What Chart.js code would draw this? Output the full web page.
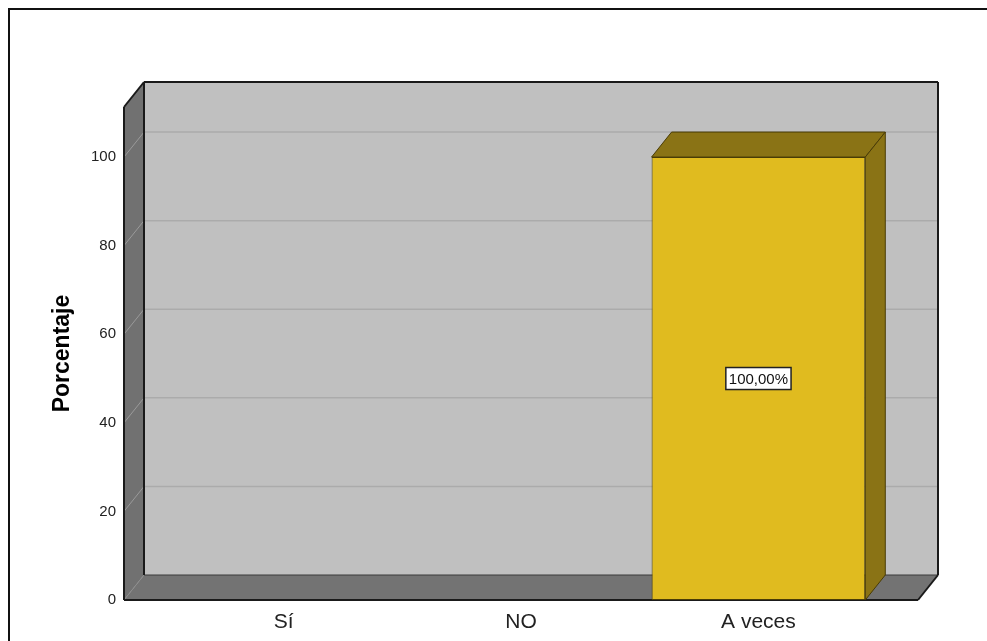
<!DOCTYPE html>
<html>
<head>
<meta charset="utf-8">
<script src="https://cdn.jsdelivr.net/npm/chart.js@4.4.1/dist/chart.umd.min.js"></script>
<style>
	html, body { margin: 0; padding: 0; background: #fff; overflow: hidden; }
	#frame { position: absolute; left: 8px; top: 8px; width: 1200px; height: 1200px; border: 2px solid #111; }
	#wrap { position: absolute; left: 0; top: 0; width: 987px; height: 641px; }
</style>
</head>
<body>
<div id="frame"></div>
<div id="wrap"><canvas id="chart"></canvas></div>
<script>
const categories = ['Sí', 'NO', 'A veces'];
const porcentajes = [0, 0, 100];
const yTicks = [0, 20, 40, 60, 80, 100];

const sans = "'Liberation Sans', Arial, sans-serif";
const depth = { dx: 20, dy: 25 }; // desplazamiento de la perspectiva 3D

function poly(ctx, pts, fill, stroke, lw) {
	ctx.beginPath();
	ctx.moveTo(pts[0][0], pts[0][1]);
	pts.slice(1).forEach((p) => ctx.lineTo(p[0], p[1]));
	ctx.closePath();
	if (fill) {
		ctx.fillStyle = fill;
		ctx.fill();
	}
	if (stroke) {
		ctx.strokeStyle = stroke;
		ctx.lineWidth = lw || 1;
		ctx.stroke();
	}
}

function line(ctx, x1, y1, x2, y2, color, lw) {
	ctx.beginPath();
	ctx.moveTo(x1, y1);
	ctx.lineTo(x2, y2);
	ctx.strokeStyle = color;
	ctx.lineWidth = lw;
	ctx.stroke();
}

// paredes, suelo y rejilla de la caja 3D
const box3d = {
	id: 'box3d',
	beforeDatasetsDraw(chart) {
		const { ctx, chartArea, scales } = chart;
		const { left: L, right: R, top: T, bottom: B } = chartArea;
		const { dx, dy } = depth;
		ctx.save();
		ctx.fillStyle = '#c0c0c0';
		ctx.fillRect(L + dx, T - dy, R - L, B - T);
		poly(ctx, [[L, B], [L, T], [L + dx, T - dy], [L + dx, B - dy]], '#717171');
		poly(ctx, [[L, B], [R, B], [R + dx, B - dy], [L + dx, B - dy]], '#737373');

		yTicks.forEach((v) => {
			if (v === 0) return;
			const py = scales.y.getPixelForValue(v);
			line(ctx, L + dx, py - dy, R + dx, py - dy, '#ababab', 1.5);
			line(ctx, L, py, L + dx, py - dy, '#9a9a9a', 1);
		});

		line(ctx, L, B, L + dx, B - dy, '#8c8c8c', 1);
		line(ctx, L + dx, B - dy, R + dx, B - dy, '#3a3a3a', 1);
		line(ctx, L + dx, T - dy, L + dx, B - dy, '#1a1a1a', 2);
		line(ctx, L, T, L, B, '#1a1a1a', 2);
		line(ctx, L, T, L + dx, T - dy, '#1a1a1a', 2);
		line(ctx, L + dx, T - dy, R + dx, T - dy, '#1a1a1a', 2);
		line(ctx, R + dx, T - dy, R + dx, B - dy, '#1a1a1a', 2);
		line(ctx, R + dx, B - dy, R, B, '#1a1a1a', 2);
		line(ctx, L, B, R, B, '#1a1a1a', 2);
		ctx.restore();
	},
	afterDatasetsDraw(chart) {
		const { ctx } = chart;
		const { dx, dy } = depth;
		ctx.save();
		chart.getDatasetMeta(0).data.forEach((bar, i) => {
			const v = porcentajes[i];
			if (!v) return;
			const l = bar.x - bar.width / 2;
			const r = bar.x + bar.width / 2;
			// cara superior y lateral
			poly(ctx, [[l, bar.y], [l + dx, bar.y - dy], [r + dx, bar.y - dy], [r, bar.y]], '#8a7315', '#4a3c06', 1);
			poly(ctx, [[r, bar.y], [r + dx, bar.y - dy], [r + dx, bar.base - dy], [r, bar.base]], '#8a7315', '#4a3c06', 1);

			// etiqueta de valor
			const txt = v.toFixed(2).replace('.', ',') + '%';
			ctx.font = `15px ${sans}`;
			const w = ctx.measureText(txt).width + 6;
			const h = 22;
			const cx = bar.x;
			const cy = (bar.y + bar.base) / 2;
			ctx.fillStyle = '#fff';
			ctx.fillRect(cx - w / 2, cy - h / 2, w, h);
			ctx.strokeStyle = '#222';
			ctx.lineWidth = 1.5;
			ctx.strokeRect(cx - w / 2, cy - h / 2, w, h);
			ctx.fillStyle = '#111';
			ctx.textAlign = 'center';
			ctx.textBaseline = 'middle';
			ctx.fillText(txt, cx, cy + 1);
		});
		ctx.restore();
	},
};

const ctx = document.getElementById('chart');
new Chart(ctx, {
	type: 'bar',
	data: {
		datasets: [
			{
				data: categories.map((c, i) => ({ x: i, y: porcentajes[i] })),
				backgroundColor: '#e0bb1f',
				borderColor: '#4a3c06',
				borderWidth: (c) => (c.raw && c.raw.y > 0 ? 1 : 0),
				borderSkipped: false,
				categoryPercentage: 1,
				barPercentage: 0.9,
			},
		],
	},
	plugins: [box3d],
	options: {
		responsive: true,
		maintainAspectRatio: false,
		animation: false,
		layout: { padding: { top: 107, right: 69, left: 45, bottom: 0 } },
		plugins: {
			legend: { display: false },
			tooltip: { enabled: false },
		},
		scales: {
			x: {
				type: 'linear',
				offset: false,
				min: -0.672,
				max: 2.672,
				grid: { display: false, drawTicks: false },
				border: { display: false },
				afterBuildTicks: (scale) => {
					scale.ticks = categories.map((c, i) => ({ value: i }));
				},
				afterFit: (scale) => {
					scale.height = 41;
				},
				ticks: {
					padding: 10,
					color: '#222',
					font: { family: sans, size: 21 },
					callback: (value) => categories[value],
				},
			},
			y: {
				min: 0,
				max: 111.3,
				grid: { display: false, drawTicks: false },
				border: { display: false },
				afterBuildTicks: (scale) => {
					scale.ticks = yTicks.map((v) => ({ value: v }));
				},
				afterFit: (scale) => {
					scale.width = 79;
				},
				ticks: {
					padding: 8,
					color: '#222',
					font: { family: sans, size: 15 },
				},
				title: {
					display: true,
					text: 'Porcentaje',
					color: '#000',
					font: { family: sans, size: 23, weight: 'bold' },
				},
			},
		},
	},
});
</script>
</body>
</html>
